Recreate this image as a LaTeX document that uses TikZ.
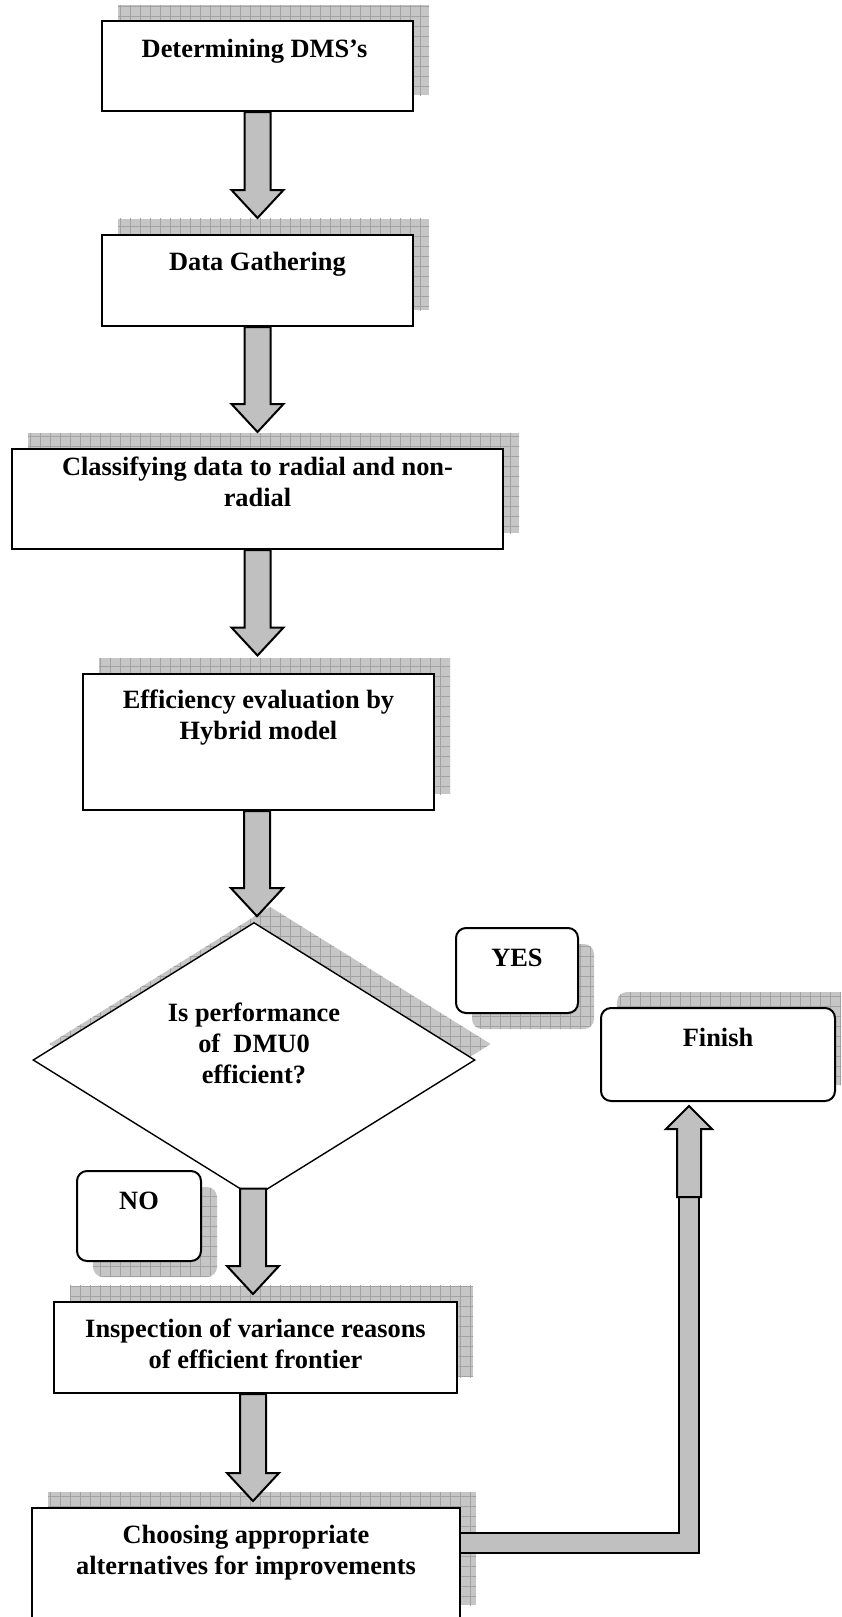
\documentclass[tikz,border=0pt]{standalone}
\usepackage{fontspec}
\setmainfont{Liberation Serif}
\usetikzlibrary{shapes.geometric,shadows,patterns.meta,calc}

\definecolor{arrowgray}{HTML}{C0C0C0}
\definecolor{shadegray}{HTML}{C6C6C6}
\definecolor{gridgray}{HTML}{A2A2A2}

\tikzset{every picture/.style={line width=0.75pt}}
\tikzset{
  gridfill/.style={fill=shadegray,
    postaction={pattern={Hatch[angle=0,distance=5pt,line width=0.5pt]}, pattern color=gridgray}},
  shade up/.style={general shadow={shadow xshift=8pt, shadow yshift=8pt, gridfill}},
  shade down/.style={general shadow={shadow xshift=8pt, shadow yshift=-8pt, gridfill}},
  stepbox/.style={draw, fill=white, line width=1pt, inner sep=0pt, shade up},
  answer/.style={draw, fill=white, line width=1pt, inner sep=0pt, rounded corners=5pt, shade down},
  endbox/.style={draw, fill=white, line width=1pt, inner sep=0pt, rounded corners=5pt, shade up},
  decision/.style={diamond, draw, fill=white, line width=0.7pt, inner sep=0pt, shade up},
  txt/.style={font=\bfseries\fontsize{13.2}{15.5}\selectfont, align=center, inner sep=0pt, anchor=north},
  blockdown/.style args={#1/#2/#3}{draw, fill=arrowgray, line width=1pt, line join=miter,
    to path={let \p1=(\tikztostart), \p2=(\tikztotarget) in
      (\x2-#1,\y1) -- (\x2-#1,\y2+#3) -- (\x2-#2,\y2+#3) -- (\x2,\y2)
      -- (\x2+#2,\y2+#3) -- (\x2+#1,\y2+#3) -- (\x2+#1,\y1) -- cycle}},
  blockup/.style args={#1/#2/#3}{draw, fill=arrowgray, line width=1pt, line join=miter,
    to path={let \p1=(\tikztostart), \p2=(\tikztotarget) in
      (\x2-#1,\y1) -- (\x2-#1,\y2-#3) -- (\x2-#2,\y2-#3) -- (\x2,\y2)
      -- (\x2+#2,\y2-#3) -- (\x2+#1,\y2-#3) -- (\x2+#1,\y1) -- cycle}},
  bigarrow/.style={blockdown={6.5pt/13pt/14pt}},
  smallarrow/.style={blockup={6pt/11.5pt/11.5pt}},
  returnbar/.style={line width=0.9pt, double=arrowgray, double distance=9.2pt, line join=miter}
}

\begin{document}
\begin{tikzpicture}[x=0.5pt,y=-0.5pt]
\useasboundingbox (0,0) rectangle (841,1617);
\clip (0,0) rectangle (841,1617);

\node (b1) [stepbox, minimum width=155.5pt, minimum height=45pt] at (257.5,66) {};
\node (b2) [stepbox, minimum width=155.5pt, minimum height=45.75pt] at (257.5,280.25) {};
\node (b3) [stepbox, minimum width=245.5pt, minimum height=50pt] at (257.5,499) {};
\node (b4) [stepbox, minimum width=175.5pt, minimum height=68pt] at (258.5,742) {};
\node (d) [decision, minimum width=221pt, minimum height=137.5pt] at (254,1060) {};
\node (yes) [answer, minimum width=61pt, minimum height=42.5pt] at (517,970.5) {};
\node (no) [answer, minimum width=62pt, minimum height=45pt] at (139,1216) {};
\node (fin) [endbox, minimum width=117pt, minimum height=46.5pt] at (718,1054.5) {};
\node (b5) [stepbox, minimum width=201.5pt, minimum height=45.75pt] at (255.5,1347.25) {};
\node (b6) [stepbox, minimum width=214pt, minimum height=56.5pt] at (246,1564.5) {};

\node (t1) [txt] at ([xshift=-1.5pt,yshift=-9.2pt]b1.north) {Determining DMS’s};
\node (t2) [txt] at ([yshift=-8.9pt]b2.north) {Data Gathering};
\node (t3) [txt] at ([yshift=-4pt]b3.north) {Classifying data to radial and non-\\radial};
\node (t4) [txt] at ([yshift=-8.3pt]b4.north) {Efficiency evaluation by\\Hybrid model};
\node (td) [txt] at ([yshift=-40.2pt]d.north) {Is performance\\of \ DMU0\\efficient?};
\node (tyes) [txt] at ([yshift=-10.5pt]yes.north) {YES};
\node (tno) [txt] at ([yshift=-10.5pt]no.north) {NO};
\node (tfin) [txt] at ([yshift=-10.2pt]fin.north) {Finish};
\node (t5) [txt] at ([yshift=-8.8pt]b5.north) {Inspection of variance reasons\\of efficient frontier};
\node (t6) [txt] at ([yshift=-8.5pt]b6.north) {Choosing appropriate\\alternatives for improvements};

\draw[bigarrow] (b1.south) to ([yshift=7.75pt]b2.north);
\draw[bigarrow] (b2.south) to ([yshift=8pt]b3.north);
\draw[bigarrow] (b3.south) to ([xshift=-0.5pt,yshift=8.75pt]b4.north);
\draw[bigarrow] (b4.south) to ([xshift=1.5pt,yshift=2.8pt]d.north);
\draw[bigarrow] ([yshift=4.75pt]d.south) to ([xshift=-1.25pt,yshift=3.25pt]b5.north);
\draw[bigarrow] (b5.south) to ([xshift=3.5pt,yshift=3pt]b6.north);

\coordinate (turn) at (689,1543);
\coordinate (upbase) at (689,1197);
\draw[returnbar] (b6.east |- turn) -- (turn) -- (upbase);
\draw[smallarrow] (upbase) to ([xshift=-14.5pt,yshift=-2pt]fin.south);
\end{tikzpicture}
\end{document}
